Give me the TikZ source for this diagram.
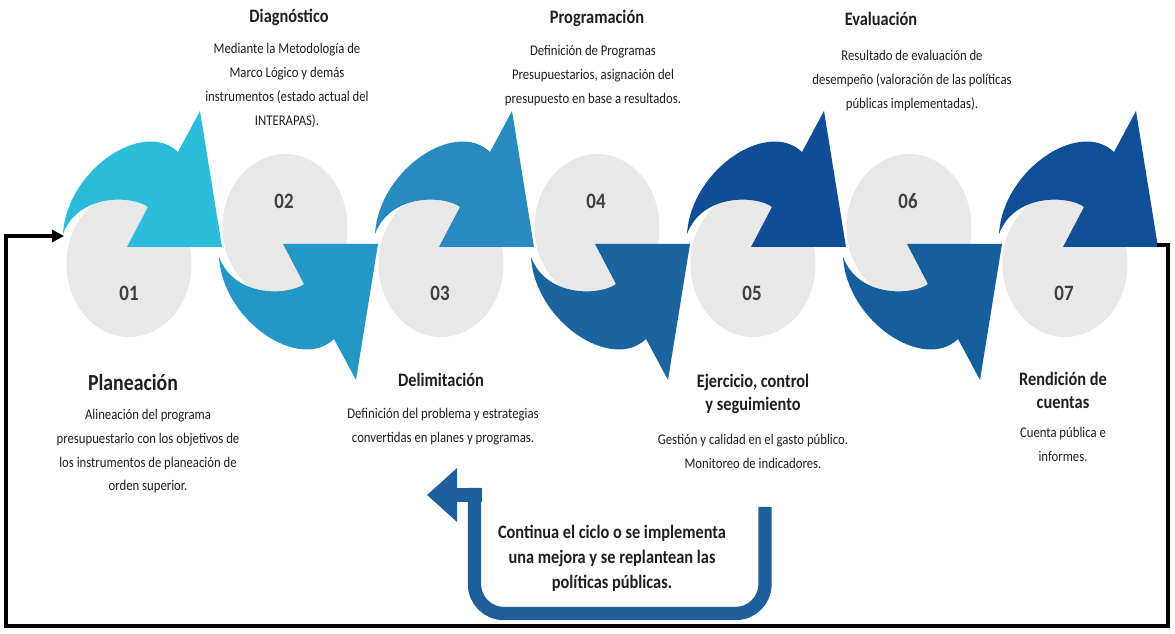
\documentclass[tikz,border=0pt]{standalone}
\usepackage{fontspec}
\setmainfont{Carlito}[FakeStretch=0.86]
\usetikzlibrary{arrows.meta,shapes.geometric}
\definecolor{c1}{HTML}{2BBCDB}
\definecolor{c2}{HTML}{2597C6}
\definecolor{c3}{HTML}{278BC0}
\definecolor{c4}{HTML}{1A65A0}
\definecolor{c5}{HTML}{0F4E96}
\definecolor{c6}{HTML}{145F9C}
\definecolor{c7}{HTML}{0F4F96}
\definecolor{backblue}{HTML}{1D5F9A}
\definecolor{disc}{HTML}{E8E8E8}
\definecolor{txt}{HTML}{1F1F1F}
\definecolor{numc}{HTML}{3F3F3F}
\tikzset{
  body/.style={font=\fontsize{11.1}{18}\selectfont, text=txt, align=center, inner sep=0pt, anchor=base},
  title/.style={font=\fontsize{14.25}{17.25}\selectfont\bfseries, text=txt, align=center, inner sep=0pt, anchor=base},
  bigtitle/.style={font=\fontsize{17.25}{20}\selectfont\bfseries, text=txt, align=center, inner sep=0pt, anchor=base},
  note/.style={font=\fontsize{14.25}{18.4}\selectfont\bfseries, text=txt, align=center, inner sep=0pt, anchor=base},
  num/.style={font=\fontsize{16.5}{18}\selectfont\bfseries, text=numc, inner sep=0pt},
  discnode/.style={ellipse, fill=disc, minimum width=93.75pt, minimum height=109.5pt, inner sep=0pt},
  loopline/.style={line width=3pt, black, -{Triangle[length=9pt,width=9pt]}},
  backline/.style={line width=10pt, backblue},
}
\begin{document}
\begin{tikzpicture}[x=0.75pt,y=-0.75pt]
\useasboundingbox[fill=white] (0,0) rectangle (1175,634);
% discs
\foreach \i/\cx/\cy in {1/129/264,2/285/227,3/441/264,4/597/227,5/753/264,6/909/227,7/1065/264}{
  \node[discnode] (e\i) at (\cx,\cy) {};
}
% crescent arrows
\foreach \i/\cx/\cy/\s in {1/129/264/1,2/285/227/-1,3/441/264/1,4/597/227/-1,5/753/264/1,6/909/227/-1,7/1065/264/1}{
  \begin{scope}[shift={(\cx,\cy)},yscale=\s]
    \fill[c\i] (-66,-30) .. controls (-62,-95) and (15,-145) .. (49,-112)
      -- (71,-153) -- (93,-17) -- (-2,-17) -- (19,-57)
      .. controls (5,-68) and (-50,-72) .. (-66,-30) -- cycle;
  \end{scope}
}
% numbers
\foreach \i/\cx/\cy in {1/129/293,2/284/201,3/440/293,4/596/201,5/752/293,6/908/201,7/1064/293}{
  \node[num] (n\i) at (\cx,\cy) {0\i};
}
% texts (base anchor = last line's baseline)
\node[bigtitle] (t1) at (133,391) {Planeación};
\node[body] (b1) at (148,491) {Alineación del programa\\presupuestario con los objetivos de\\los instrumentos de planeación de\\orden superior.};
\node[title] (t2) at (289,23) {Diagnóstico};
\node[body] (b2) at (287,126) {Mediante la Metodología de\\Marco Lógico y demás\\instrumentos (estado actual del\\INTERAPAS).};
\node[title] (t3) at (441,387) {Delimitación};
\node[body] (b3) at (443,443) {Definición del problema y estrategias\\convertidas en planes y programas.};
\node[title] (t4) at (597,24) {Programación};
\node[body] (b4) at (593,104) {Definición de Programas\\Presupuestarios, asignación del\\presupuesto en base a resultados.};
\node[title] (t5) at (753,411) {Ejercicio, control\\y seguimiento};
\node[body] (b5) at (753,469) {Gestión y calidad en el gasto público.\\Monitoreo de indicadores.};
\node[title] (t6) at (881,26) {Evaluación};
\node[body] (b6) at (912,109) {Resultado de evaluación de\\desempeño (valoración de las políticas\\públicas implementadas).};
\node[title] (t7) at (1063,409) {Rendición de\\cuentas};
\node[body] (b7) at (1063,462) {Cuenta pública e\\informes.};
\node[note] (nb) at (612,588) {Continua el ciclo o se implementa\\una mejora y se replantean las\\políticas públicas.};
% outer loop back to step 01
\coordinate (a7) at (1157,245);
\coordinate (r1) at (1168,245);
\coordinate (r2) at (1168,626);
\coordinate (r3) at (6,626);
\coordinate (r4) at (6,236);
\coordinate (a1) at (64,236);
\draw[loopline] (a7) -- (r1) -- (r2) -- (r3) -- (r4) -- (a1);
% inner return arrow
\coordinate (s1) at (765,507);
\coordinate (s2) at (765,613.5);
\coordinate (s3) at (474.5,613.5);
\coordinate (s4) at (474.5,488);
\coordinate (s5) at (482,495);
\coordinate (s6) at (427,495);
\draw[backline, rounded corners=22pt] (s1) -- (s2) -- (s3) -- (s4);
\draw[backline, -{Triangle[length=22.5pt,width=39pt]}] (s5) -- (s6);
\end{tikzpicture}
\end{document}
